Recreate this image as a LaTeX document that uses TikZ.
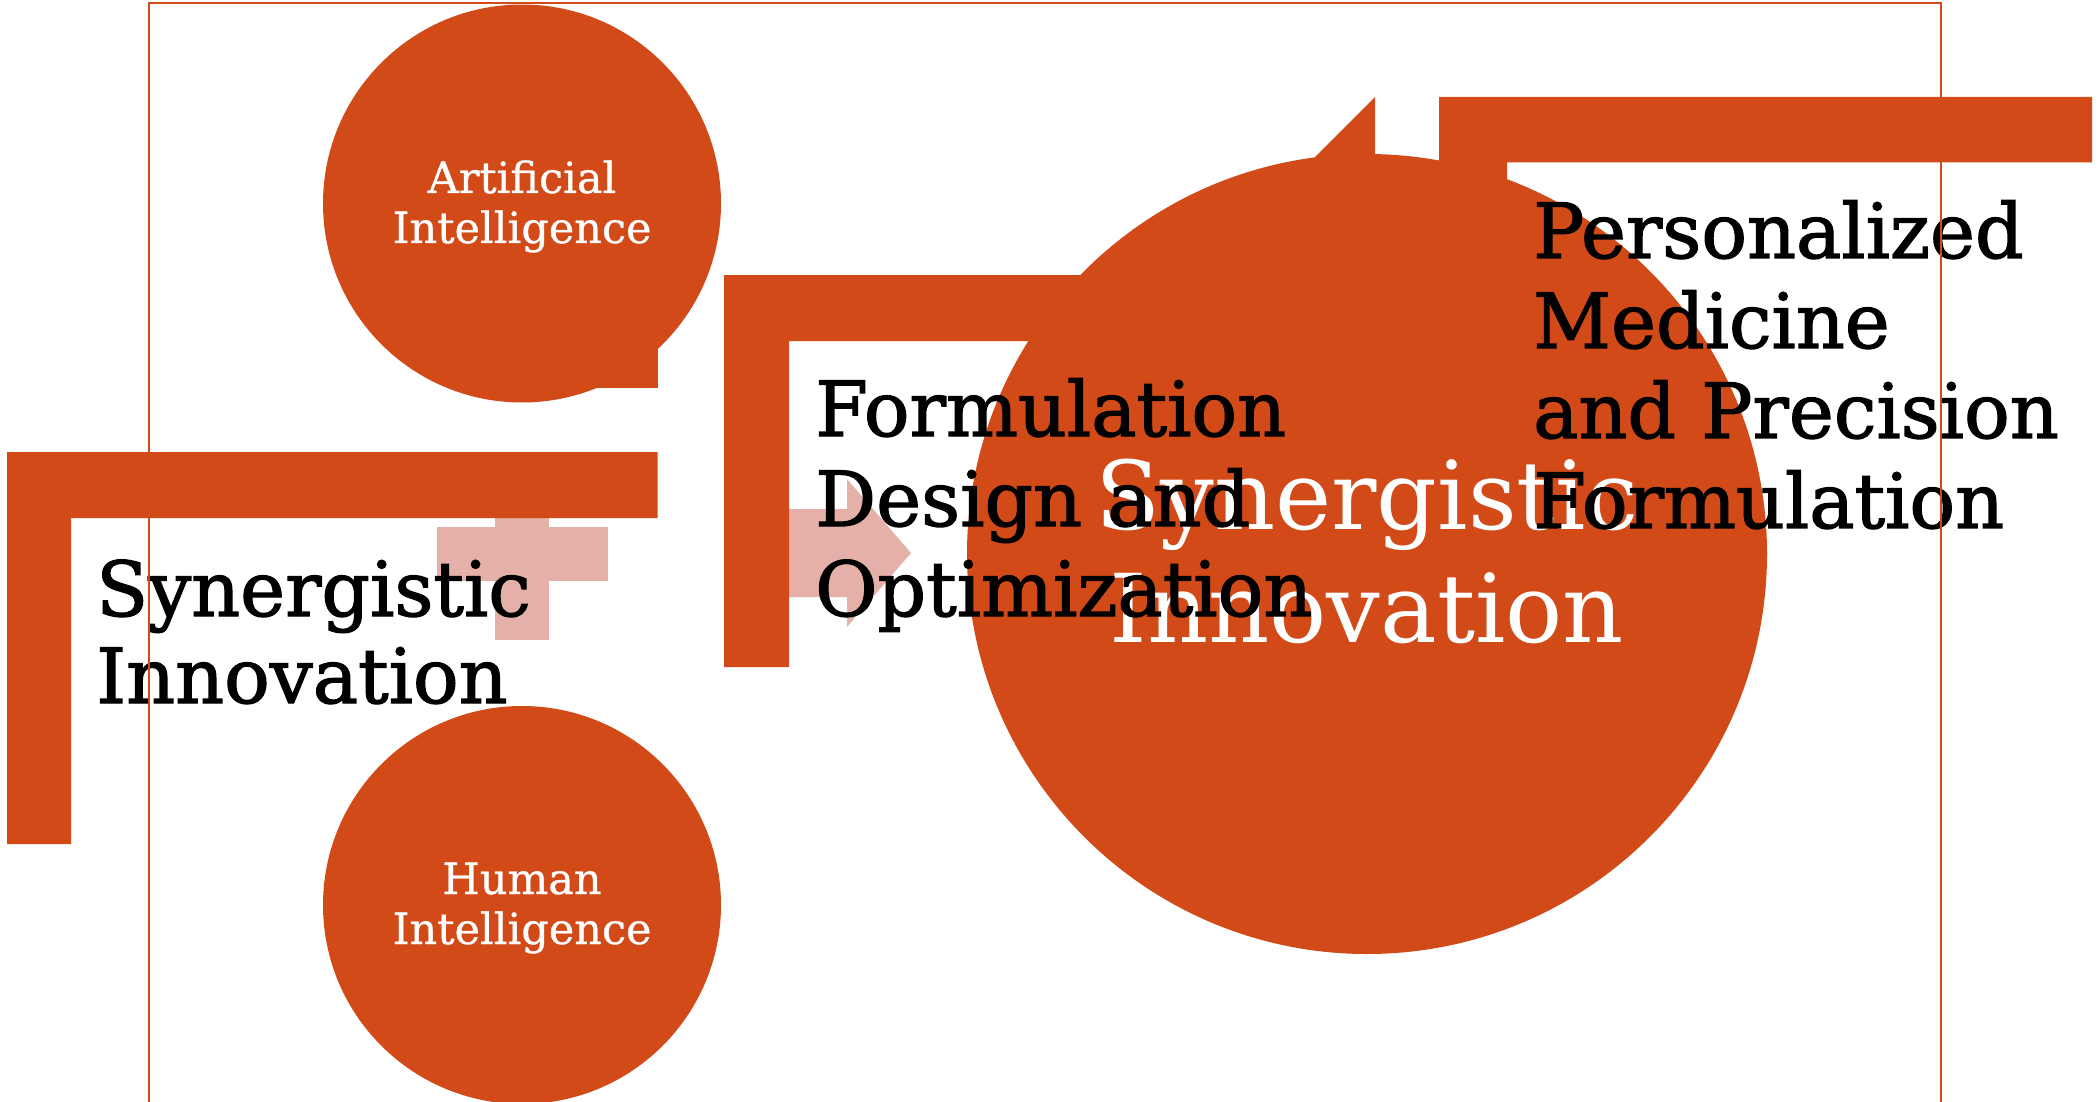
\documentclass[tikz,border=0pt]{standalone}
\usepackage{fontspec}
\setmainfont{DejaVu Serif}
\newfontfamily\slabheavy[FakeBold=1.6]{DejaVu Serif}
\newfontfamily\slabmid[FakeBold=0.8]{DejaVu Serif}
\definecolor{orng}{RGB}{210,74,24}
\definecolor{pinkish}{RGB}{229,176,168}
\begin{document}
\begin{tikzpicture}[x=1pt,y=-1pt,
  shapefill/.style={fill=orng,draw=none},
  lightfill/.style={fill=pinkish,draw=none},
  frameline/.style={draw=orng,line width=2pt},
  blacktxt/.style={text=black,inner sep=0pt,anchor=base west,align=left,text width=620pt,font=\slabheavy\fontsize{76}{90}\selectfont},
  whitebig/.style={text=white,inner sep=0pt,anchor=base,align=center,text width=800pt,font=\fontsize{95}{113}\selectfont},
  whitesmall/.style={text=white,inner sep=0pt,anchor=base,align=center,text width=380pt,font=\slabmid\fontsize{43}{50}\selectfont}]
\useasboundingbox (0,0) rectangle (2099,1102);
\fill[white] (0,0) rectangle (2099,1102);
% AI circle with corner
\fill[shapefill] (522,203.5) circle[radius=199pt];
\fill[shapefill] (580,330) rectangle (658,387.5);
% Human circle
\fill[shapefill] (522,905) circle[radius=199pt];
% plus sign
\fill[lightfill] (495,468) rectangle (549,639.5);
\fill[lightfill] (437,527) rectangle (608,581);
% arrow
\fill[lightfill] (760,509) -- (847,509) -- (847,479) -- (911,553) -- (847,627) -- (847,597) -- (760,597) -- cycle;
% L shapes
\fill[shapefill] (7,452) -- (657.5,452) -- (657.5,518) -- (71,518) -- (71,844) -- (7,844) -- cycle;
\fill[shapefill] (724,275) -- (1374,275) -- (1374,341) -- (789,341) -- (789,667) -- (724,667) -- cycle;
\fill[shapefill] (1439,97) -- (2092,97) -- (2092,162.5) -- (1507,162.5) -- (1507,489) -- (1439,489) -- cycle;
% big circle with spike
\fill[shapefill] (1367,554) circle[radius=400pt];
\fill[shapefill] (1314,158) -- (1375,97) -- (1375,210) -- (1314,210) -- cycle;
% texts
\node[whitesmall] (aitxt) at (522,193) {Artificial\\Intelligence};
\node[whitesmall] (hitxt) at (522,894) {Human\\Intelligence};
\node[whitebig] (bigtxt) at (1367,529) {Synergistic\\Innovation};
\node[blacktxt,font=\slabheavy\fontsize{76}{87}\selectfont] (syntxt) at (96,616) {Synergistic\\Innovation};
\node[blacktxt] (formtxt) at (815,436) {Formulation\\Design and\\Optimization};
\node[blacktxt] (perstxt) at (1533,258) {Personalized\\Medicine\\and Precision\\Formulation};
% frame (on top)
\draw[frameline] (149,3) rectangle (1941,1120);
\end{tikzpicture}
\end{document}
